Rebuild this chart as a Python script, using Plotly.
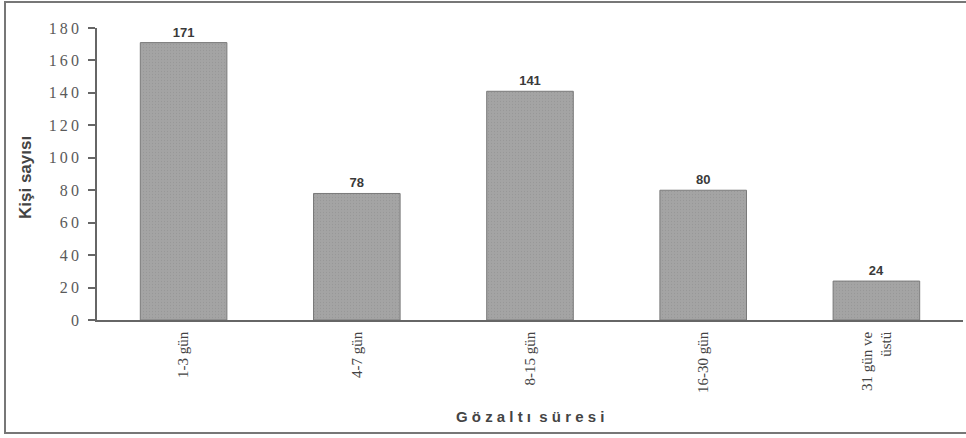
import plotly.graph_objects as go

# Gözaltı süresine göre kişi sayısı
categories = ["1-3 gün", "4-7 gün", "8-15 gün", "16-30 gün", "31 gün ve<br>üstü"]
counts = [171, 78, 141, 80, 24]
y_ticks = [0, 20, 40, 60, 80, 100, 120, 140, 160, 180]
# the scanned original prints its tick digits loosely spaced
y_ticktext = ["\u2009".join(str(v)) for v in y_ticks]

W, H = 966, 438
L, R, T, B = 97, 3, 28, 118
pw, ph = W - L - R, H - T - B

def px_x(x):
    return (x - L) / pw

def px_y(y):
    return (H - B - y) / ph

fig = go.Figure(go.Bar(
    x=categories,
    y=counts,
    width=0.5,
    marker=dict(color="#a2a2a2", line=dict(color="#7a7a7a", width=1),
                pattern=dict(shape=".", size=3, solidity=0.15, fgcolor="#8c8c8c", bgcolor="#a4a4a4")),
    text=counts,
    texttemplate="<b>%{text}</b>",
    textposition="outside",
    cliponaxis=False,
    textfont=dict(family="Liberation Sans, Arial", size=13, color="#3a3a3a"),
))

fig.update_layout(
    width=W, height=H,
    margin=dict(l=L, r=R, t=T, b=B),
    paper_bgcolor="white", plot_bgcolor="white",
    showlegend=False,
    bargap=0.5,
    xaxis=dict(
        showline=True, linecolor="#666", linewidth=1.5,
        ticks="", tickangle=-90, ticklabelstandoff=4,
        tickfont=dict(family="Liberation Serif, Times New Roman", size=15, color="#444"),
        showgrid=False,
    ),
    yaxis=dict(
        range=[0, 180], tickvals=y_ticks, ticktext=y_ticktext,
        showline=True, linecolor="#666", linewidth=1.5,
        ticks="outside", ticklen=7, tickcolor="#666", tickwidth=1.5,
        ticklabelstandoff=6,
        tickfont=dict(family="Liberation Serif, Times New Roman", size=16, color="#5a5a5a"),
        showgrid=False, zeroline=False,
    ),
    annotations=[
        dict(text="<b>Kişi sayısı</b>", xref="paper", yref="paper",
             x=px_x(25), y=px_y(178), textangle=-90, showarrow=False,
             xanchor="center", yanchor="middle",
             font=dict(family="Liberation Sans, Arial", size=17, color="#444")),
        dict(text="<b>G ö z a l t ı  s ü r e s i</b>", xref="paper", yref="paper",
             x=px_x(530), y=px_y(416), showarrow=False,
             xanchor="center", yanchor="middle",
             font=dict(family="Liberation Sans, Arial", size=15, color="#444")),
    ],
    shapes=[
        dict(type="rect", xref="paper", yref="paper",
             x0=px_x(5), x1=px_x(968), y0=px_y(433), y1=px_y(2),
             line=dict(color="#777", width=2)),
    ],
)

# page body has a default 8px margin; drop it so the figure sits at the window edge
fig.write_html("out.html", config={"displayModeBar": False},
               post_script="document.body.style.margin='0';")
